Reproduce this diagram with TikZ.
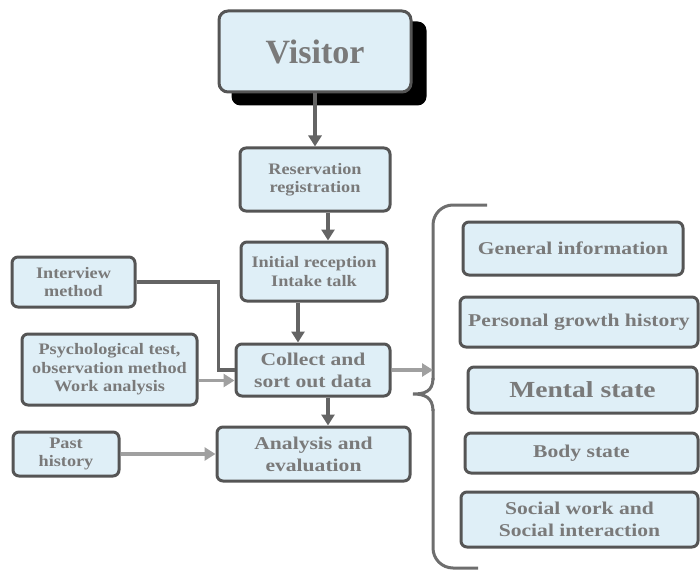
\documentclass[tikz,border=0pt]{standalone}
\usepackage{fontspec}
\setmainfont{Liberation Serif}
\newfontfamily\widefont[FakeStretch=1.2]{Liberation Serif}
\newfontfamily\smallwidefont[FakeStretch=1.14]{Liberation Serif}
\usetikzlibrary{arrows.meta,backgrounds}
\definecolor{boxfill}{RGB}{223,239,247}
\definecolor{boxline}{RGB}{85,85,85}
\definecolor{txt}{RGB}{122,122,122}
\definecolor{darkarr}{RGB}{100,100,100}
\definecolor{lightarr}{RGB}{160,160,160}
\definecolor{bracecol}{RGB}{110,110,110}
\tikzset{
  box/.style={draw=boxline, fill=boxfill, line width=3pt, rounded corners=6pt,
    inner sep=0pt, align=center, text=txt},
  small/.style={font=\smallwidefont\bfseries\fontsize{16}{18.5}\selectfont},
  medium/.style={font=\widefont\bfseries\fontsize{18}{22}\selectfont},
  darrow/.style={draw=darkarr, line width=3.5pt, -{Triangle[length=11pt,width=13pt]}},
  larrow/.style={draw=lightarr, line width=3.5pt, -{Triangle[length=11pt,width=13pt]}},
  dline/.style={draw=darkarr, line width=3.5pt},
}
\begin{document}
\begin{tikzpicture}[x=1pt,y=-1pt]
\useasboundingbox (0,0) rectangle (700,572);
% left column
\node[box, minimum width=192pt, minimum height=81pt, rounded corners=9pt,
  font=\bfseries\fontsize{34}{40}\selectfont] (visitor) at (315,51.5) {Visitor};
\begin{scope}[on background layer]
  \fill[black, rounded corners=9pt] ([shift={(14pt,-12pt)}]visitor.south west) rectangle ([shift={(14pt,-12pt)}]visitor.north east);
\end{scope}
\node[box, small, minimum width=150pt, minimum height=63pt] (res) at (315,179.5) {Reservation\\registration};
\node[box, small, minimum width=146pt, minimum height=59pt] (init) at (314,271.5) {Initial reception\\Intake talk};
\node[box, small, minimum width=123pt, minimum height=50pt] (interview) at (73.5,282) {Interview\\method};
\node[box, medium, minimum width=154pt, minimum height=52pt] (collect) at (313,370) {Collect and\\sort out data};
\node[box, small, minimum width=175pt, minimum height=71pt] (psych) at (109.5,369.5) {Psychological test,\\observation method\\Work analysis};
\node[box, small, minimum width=106pt, minimum height=44pt] (past) at (66,454) {Past\\history};
\node[box, medium, minimum width=193pt, minimum height=54pt] (analysis) at (313.5,454) {Analysis and\\evaluation};
% right column
\node[box, medium, minimum width=220pt, minimum height=53pt] (general) at (573,248.5) {General information};
\node[box, medium, minimum width=238pt, minimum height=50pt] (personal) at (579,322) {Personal growth history};
\node[box, minimum width=229pt, minimum height=46pt, font=\widefont\bfseries\fontsize{23}{27}\selectfont] (mental) at (582.5,390) {Mental state};
\node[box, medium, minimum width=233pt, minimum height=40pt] (body) at (581.5,453) {Body state};
\node[box, medium, minimum width=237pt, minimum height=55pt] (social) at (579.5,519.5) {Social work and\\Social interaction};
% brace
\coordinate (btip) at (433,370);
\draw[bracecol, line width=3pt, rounded corners=20pt]
  (487,205) -- (433,205) -- (433,380);
\draw[bracecol, line width=3pt]
  (433,378) .. controls (433,392) and (424,394) .. (413,394)
  .. controls (424,394) and (433,397) .. (433,411);
\draw[bracecol, line width=3pt, rounded corners=20pt]
  (433,409) -- (433,568) -- (478,568);
% connectors
\draw[darrow] (visitor.south) -- (res.north);
\draw[darrow] ([xshift=13pt]res.south) -- ([xshift=13pt]res.south |- init.north);
\draw[darrow] ([xshift=-16pt]init.south) -- ([xshift=-16pt]init.south |- collect.north);
\draw[dline] (interview.east) -| ([xshift=-16pt]collect.west) -- (collect.west);
\draw[larrow] ([yshift=-11pt]psych.east) -- ([yshift=-11pt]psych.east -| collect.west);
\draw[darrow] ([xshift=15pt]collect.south) -- ([xshift=15pt]collect.south |- analysis.north);
\draw[larrow] (past.east) -- (analysis.west);
\draw[larrow] (collect.east) -- (btip);
\end{tikzpicture}
\end{document}
